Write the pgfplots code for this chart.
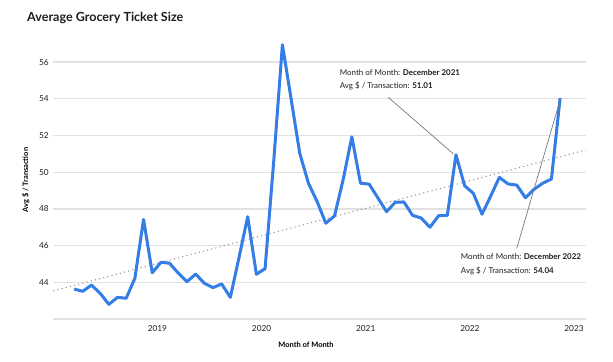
\documentclass[border=0pt]{standalone}
\usepackage{pgfplots}
\pgfplotsset{compat=1.18}
\usepackage{fontspec}
\setmainfont{Lato}
\definecolor{lineblue}{RGB}{52,125,230}
\definecolor{gridgray}{RGB}{225,225,225}
\definecolor{trendgray}{RGB}{150,150,150}
\definecolor{leadgray}{RGB}{120,120,120}
\definecolor{txt}{RGB}{30,30,30}
\begin{document}
\begin{tikzpicture}[x=1bp,y=1bp]
\path[use as bounding box] (0,0) rectangle (613,361);
\begin{axis}[
  at={(53.3bp,42bp)}, anchor=south west,
  scale only axis, width=532.4bp, height=284.4bp,
  xmin=-2.4, xmax=58.95, ymin=42, ymax=57.5,
  axis line style={draw=none},
  major tick length=0pt,
  ymajorgrids, grid style={gridgray, line width=1.3bp},
  ytick={42,44,46,48,50,52,54,56},
  yticklabels={,44,46,48,50,52,54,56},
  xtick={9.6,21.6,33.6,45.6,57.6},
  xticklabels={2019,2020,2021,2022,2023},
  tick label style={font=\fontsize{8.3}{9}\selectfont, text=txt},
  /pgf/number format/assume math mode=true,
  yticklabel style={xshift=-1bp},
  xticklabel style={yshift=-3bp},
  xlabel={\textbf{Month of Month}},
  xlabel style={font=\fontsize{7.5}{9}\selectfont, at={(axis description cs:0.4747,-0.089)}, anchor=center},
  ylabel={\textbf{Avg \$ / Transaction}},
  ylabel style={font=\fontsize{7.5}{9}\selectfont, at={(axis description cs:-0.052,0.489)}, anchor=center, rotate=0},
  clip=false,
]
% trend line
\addplot[trendgray, line width=1.1bp, dash pattern=on 1.1bp off 3.2bp] coordinates {(-2.4,43.53) (58.95,51.21)};
% data: month index 0 = Apr 2018, 56 = Dec 2022
\addplot[lineblue, line width=3bp, line join=round] coordinates {
(0,43.63) (1,43.51) (2,43.85) (3,43.40) (4,42.80) (5,43.18) (6,43.13) (7,44.22) (8,47.43)
(9,44.52) (10,45.09) (11,45.04) (12,44.50) (13,44.03) (14,44.45) (15,43.95) (16,43.71)
(17,43.91) (18,43.18) (19,45.35) (20,47.58)
(21,44.44) (22,44.74) (23,50.60) (24,56.95) (25,54.00) (26,51.03) (27,49.40) (28,48.40)
(29,47.22) (30,47.61) (31,49.60) (32,51.93)
(33,49.40) (34,49.35) (35,48.60) (36,47.85) (37,48.36) (38,48.38) (39,47.65) (40,47.50)
(41,47.00) (42,47.63) (43,47.65) (44,50.95)
(45,49.26) (46,48.85) (47,47.71) (48,48.70) (49,49.72) (50,49.36) (51,49.30) (52,48.61)
(53,49.07) (54,49.40) (55,49.63) (56,54.04)
};
% annotations
\draw[leadgray, line width=0.7bp] (axis cs:36.2,54.08) -- (axis cs:43.7,51.0);
\node[anchor=west, font=\fontsize{8}{9}\selectfont, text=txt, inner sep=0pt] at (axis cs:30.6,55.44) {Month of Month: \textbf{December 2021}};
\node[anchor=west, font=\fontsize{8}{9}\selectfont, text=txt, inner sep=0pt] at (axis cs:30.6,54.70) {Avg \$ / Transaction: \textbf{51.01}};
\draw[leadgray, line width=0.7bp] (axis cs:51.0,45.85) -- (axis cs:56.0,53.93);
\node[anchor=west, font=\fontsize{8}{9}\selectfont, text=txt, inner sep=0pt] at (axis cs:44.55,45.38) {Month of Month: \textbf{December 2022}};
\node[anchor=west, font=\fontsize{8}{9}\selectfont, text=txt, inner sep=0pt] at (axis cs:44.55,44.62) {Avg \$ / Transaction: \textbf{54.04}};
% title
\node[anchor=west, font=\bfseries\fontsize{12.6}{14}\selectfont, text=txt, inner sep=0pt] at (axis description cs:-0.0494,1.0584) {Average Grocery Ticket Size};
\end{axis}
\end{tikzpicture}
\end{document}
